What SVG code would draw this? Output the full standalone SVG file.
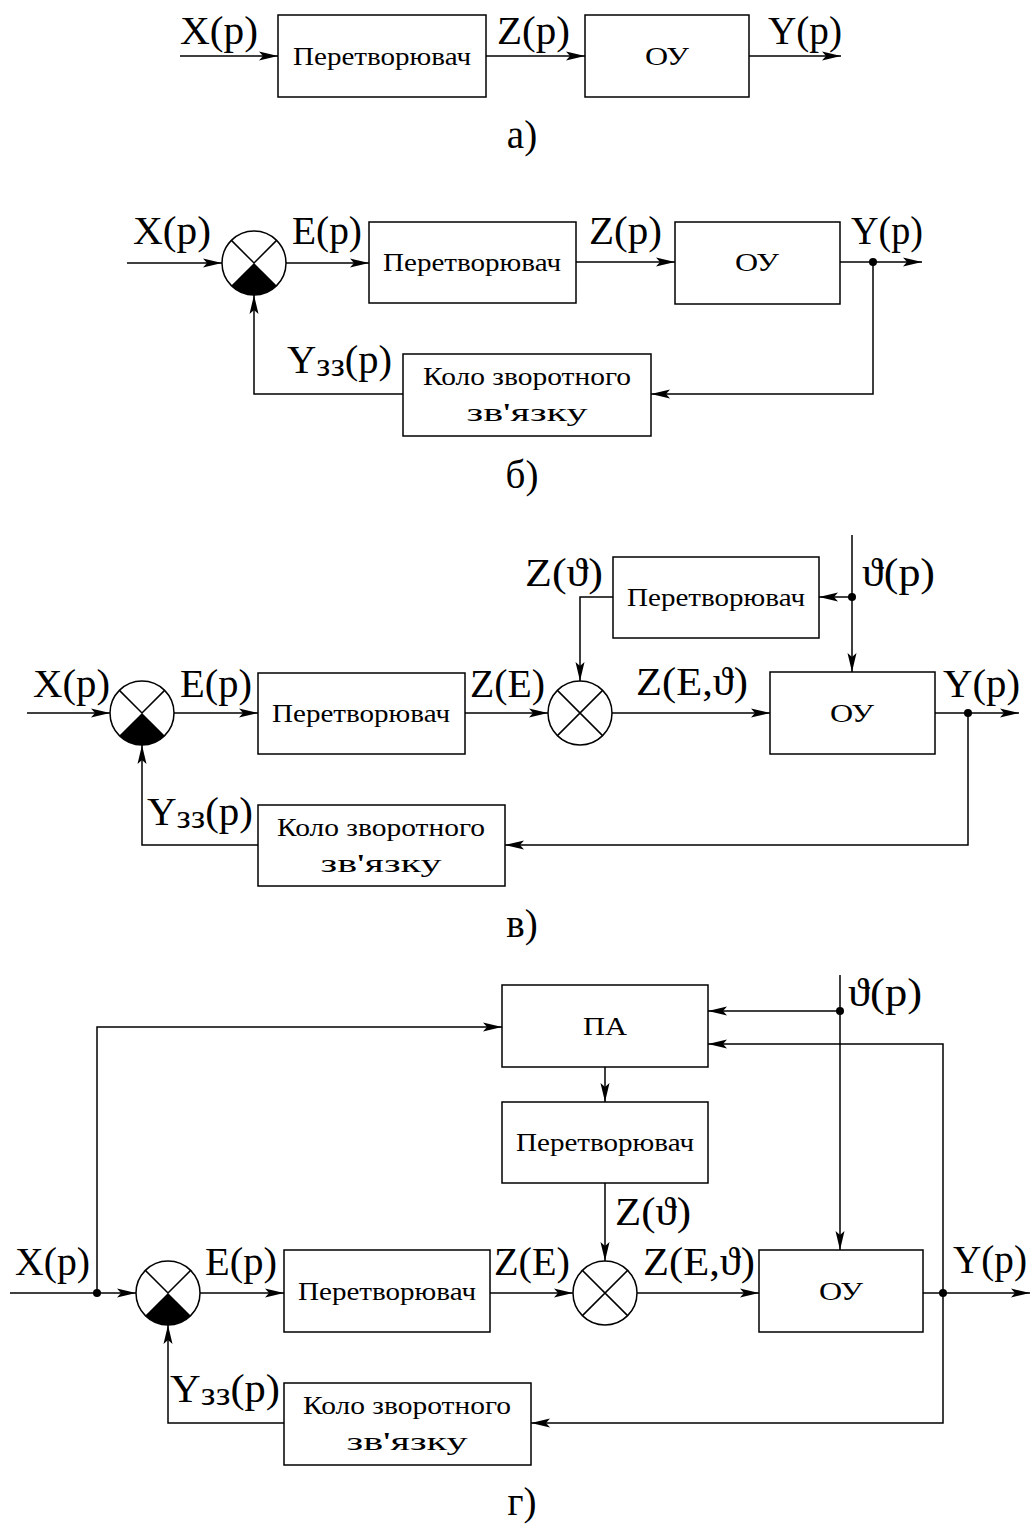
<svg xmlns="http://www.w3.org/2000/svg" width="1036" height="1529" viewBox="0 0 1036 1529">
<style>
.bx{fill:#fff;stroke:#000;stroke-width:1.5}
.ln{fill:none;stroke:#000;stroke-width:1.5}
.ar{fill:none;stroke:#000;stroke-width:1.5;marker-end:url(#arr)}
.t{font-family:"Liberation Serif","Times New Roman","DejaVu Serif",serif;font-size:25px;fill:#000}
.L{font-family:"Liberation Serif","Times New Roman","DejaVu Serif",serif;font-size:39px;fill:#000}
.sub{font-size:34px}
.sum{fill:#fff;stroke:#000;stroke-width:1.5}
.dot{fill:#000}
</style>
<defs>
<marker id="arr" markerUnits="userSpaceOnUse" markerWidth="20" markerHeight="10" refX="19" refY="5" orient="auto">
<path d="M0,0.5 L19,5 L0,9.5 L4,5 z" fill="#000"/>
</marker>
</defs>

<!-- Section a -->
<g id="a-conv"><rect class="bx" x="278" y="15" width="208" height="82"/><text class="t" x="382" y="65" text-anchor="middle" textLength="178" lengthAdjust="spacingAndGlyphs">Перетворювач</text></g>
<g id="a-ou"><rect class="bx" x="585" y="15" width="164" height="82"/><text class="t" x="667" y="65" text-anchor="middle" textLength="44" lengthAdjust="spacingAndGlyphs">ОУ</text></g>
<g id="a-labels">
<text class="L" x="180" y="44" textLength="78" lengthAdjust="spacingAndGlyphs">X(p)</text>
<text class="L" x="497" y="44" textLength="73" lengthAdjust="spacingAndGlyphs">Z(p)</text>
<text class="L" x="768" y="44" textLength="74" lengthAdjust="spacingAndGlyphs">Y(p)</text>
<text class="L" x="522" y="148" text-anchor="middle">а)</text>
</g>

<!-- Section b -->
<g id="b-sum"><circle class="sum" cx="254" cy="263" r="32"/><path d="M254,263 L231.4,285.6 A32,32 0 0 0 276.6,285.6 Z" fill="#000"/><path class="ln" d="M231.4,240.4 L254,263 L276.6,240.4"/></g>
<g id="b-conv"><rect class="bx" x="369" y="222" width="207" height="81"/><text class="t" x="472" y="271" text-anchor="middle" textLength="178" lengthAdjust="spacingAndGlyphs">Перетворювач</text></g>
<g id="b-ou"><rect class="bx" x="675" y="222" width="165" height="82"/><text class="t" x="757" y="271" text-anchor="middle" textLength="44" lengthAdjust="spacingAndGlyphs">ОУ</text></g>
<g id="b-fb"><rect class="bx" x="403" y="354" width="248" height="82"/><text class="t" x="527" y="385" text-anchor="middle" textLength="208" lengthAdjust="spacingAndGlyphs">Коло зворотного</text><text class="t" x="527" y="421" text-anchor="middle" textLength="121" lengthAdjust="spacingAndGlyphs">зв'язку</text></g>
<g id="b-labels">
<text class="L" x="133" y="244" textLength="78" lengthAdjust="spacingAndGlyphs">X(p)</text>
<text class="L" x="292" y="244" textLength="70" lengthAdjust="spacingAndGlyphs">E(p)</text>
<text class="L" x="589" y="244" textLength="73" lengthAdjust="spacingAndGlyphs">Z(p)</text>
<text class="L" x="851" y="244" textLength="72" lengthAdjust="spacingAndGlyphs">Y(p)</text>
<text class="L" x="287" y="373" textLength="105" lengthAdjust="spacingAndGlyphs">Y<tspan class="sub" dy="3">зз</tspan><tspan dy="-3">(p)</tspan></text>
<text class="L" x="522" y="488" text-anchor="middle">б)</text>
</g>

<!-- Section v -->
<g id="v-sum1"><circle class="sum" cx="142" cy="713" r="32"/><path d="M142,713 L119.4,735.6 A32,32 0 0 0 164.6,735.6 Z" fill="#000"/><path class="ln" d="M119.4,690.4 L142,713 L164.6,690.4"/></g>
<g id="v-conv"><rect class="bx" x="258" y="673" width="207" height="81"/><text class="t" x="361" y="722" text-anchor="middle" textLength="178" lengthAdjust="spacingAndGlyphs">Перетворювач</text></g>
<g id="v-sum2"><circle class="sum" cx="580" cy="713" r="32"/><path class="ln" d="M557.4,690.4 L602.6,735.6 M557.4,735.6 L602.6,690.4"/></g>
<g id="v-ou"><rect class="bx" x="770" y="672" width="165" height="82"/><text class="t" x="852" y="722" text-anchor="middle" textLength="44" lengthAdjust="spacingAndGlyphs">ОУ</text></g>
<g id="v-conv2"><rect class="bx" x="613" y="557" width="206" height="81"/><text class="t" x="716" y="606" text-anchor="middle" textLength="178" lengthAdjust="spacingAndGlyphs">Перетворювач</text></g>
<g id="v-fb"><rect class="bx" x="258" y="805" width="247" height="81"/><text class="t" x="381" y="836" text-anchor="middle" textLength="208" lengthAdjust="spacingAndGlyphs">Коло зворотного</text><text class="t" x="381" y="872" text-anchor="middle" textLength="121" lengthAdjust="spacingAndGlyphs">зв'язку</text></g>
<g id="v-labels">
<text class="L" x="33" y="697" textLength="77" lengthAdjust="spacingAndGlyphs">X(p)</text>
<text class="L" x="180" y="697" textLength="72" lengthAdjust="spacingAndGlyphs">E(p)</text>
<text class="L" x="470" y="697" textLength="75" lengthAdjust="spacingAndGlyphs">Z(E)</text>
<text class="L" x="636" y="695" textLength="112" lengthAdjust="spacingAndGlyphs">Z(E,ϑ)</text>
<text class="L" x="943" y="697" textLength="77" lengthAdjust="spacingAndGlyphs">Y(p)</text>
<text class="L" x="525" y="586" textLength="78" lengthAdjust="spacingAndGlyphs">Z(ϑ)</text>
<text class="L" x="862" y="586" textLength="73" lengthAdjust="spacingAndGlyphs">ϑ(p)</text>
<text class="L" x="147" y="825" textLength="106" lengthAdjust="spacingAndGlyphs">Y<tspan class="sub" dy="3">зз</tspan><tspan dy="-3">(p)</tspan></text>
<text class="L" x="522" y="937" text-anchor="middle">в)</text>
</g>

<!-- Section g -->
<g id="g-pa"><rect class="bx" x="502" y="985" width="206" height="82"/><text class="t" x="605" y="1035" text-anchor="middle" textLength="44" lengthAdjust="spacingAndGlyphs">ПА</text></g>
<g id="g-conv2"><rect class="bx" x="502" y="1102" width="206" height="81"/><text class="t" x="605" y="1151" text-anchor="middle" textLength="178" lengthAdjust="spacingAndGlyphs">Перетворювач</text></g>
<g id="g-sum1"><circle class="sum" cx="168" cy="1293" r="32"/><path d="M168,1293 L145.4,1315.6 A32,32 0 0 0 190.6,1315.6 Z" fill="#000"/><path class="ln" d="M145.4,1270.4 L168,1293 L190.6,1270.4"/></g>
<g id="g-conv"><rect class="bx" x="284" y="1250" width="206" height="82"/><text class="t" x="387" y="1300" text-anchor="middle" textLength="178" lengthAdjust="spacingAndGlyphs">Перетворювач</text></g>
<g id="g-sum2"><circle class="sum" cx="605" cy="1293" r="32"/><path class="ln" d="M582.4,1270.4 L627.6,1315.6 M582.4,1315.6 L627.6,1270.4"/></g>
<g id="g-ou"><rect class="bx" x="759" y="1250" width="164" height="82"/><text class="t" x="841" y="1300" text-anchor="middle" textLength="44" lengthAdjust="spacingAndGlyphs">ОУ</text></g>
<g id="g-fb"><rect class="bx" x="284" y="1383" width="247" height="82"/><text class="t" x="407" y="1414" text-anchor="middle" textLength="208" lengthAdjust="spacingAndGlyphs">Коло зворотного</text><text class="t" x="407" y="1450" text-anchor="middle" textLength="121" lengthAdjust="spacingAndGlyphs">зв'язку</text></g>
<g id="g-labels">
<text class="L" x="15" y="1275" textLength="75" lengthAdjust="spacingAndGlyphs">X(p)</text>
<text class="L" x="205" y="1275" textLength="72" lengthAdjust="spacingAndGlyphs">E(p)</text>
<text class="L" x="494" y="1275" textLength="76" lengthAdjust="spacingAndGlyphs">Z(E)</text>
<text class="L" x="643" y="1275" textLength="112" lengthAdjust="spacingAndGlyphs">Z(E,ϑ)</text>
<text class="L" x="953" y="1273" textLength="74" lengthAdjust="spacingAndGlyphs">Y(p)</text>
<text class="L" x="615" y="1225" textLength="76" lengthAdjust="spacingAndGlyphs">Z(ϑ)</text>
<text class="L" x="848" y="1006" textLength="74" lengthAdjust="spacingAndGlyphs">ϑ(p)</text>
<text class="L" x="170" y="1402" textLength="110" lengthAdjust="spacingAndGlyphs">Y<tspan class="sub" dy="3">зз</tspan><tspan dy="-3">(p)</tspan></text>
<text class="L" x="522" y="1515" text-anchor="middle">г)</text>
</g>

<g id="connectors">
<!-- a -->
<path class="ar" d="M180,56 H278"/>
<path class="ar" d="M486,56 H585"/>
<path class="ar" d="M749,56 H841"/>
<!-- b -->
<path class="ar" d="M127,263 H222"/>
<path class="ar" d="M286,263 H369"/>
<path class="ar" d="M576,262 H675"/>
<path class="ar" d="M840,262 H922"/>
<path class="ar" d="M873,262 V394 H651"/>
<path class="ar" d="M403,394 H254 V295"/>
<circle class="dot" cx="873" cy="262" r="4"/>
<!-- v -->
<path class="ar" d="M27,713 H110"/>
<path class="ar" d="M174,713 H258"/>
<path class="ar" d="M465,713 H548"/>
<path class="ar" d="M612,713 H770"/>
<path class="ar" d="M935,713 H1019"/>
<path class="ar" d="M968,713 V845 H505"/>
<path class="ar" d="M258,845 H142 V745"/>
<path class="ar" d="M852,535 V672"/>
<path class="ar" d="M852,597 H819"/>
<path class="ar" d="M613,597 H580 V681"/>
<circle class="dot" cx="968" cy="713" r="4"/>
<circle class="dot" cx="852" cy="597" r="4"/>
<!-- g -->
<path class="ar" d="M10,1293 H136"/>
<path class="ar" d="M200,1293 H284"/>
<path class="ar" d="M490,1293 H573"/>
<path class="ar" d="M637,1293 H759"/>
<path class="ar" d="M923,1293 H1030"/>
<path class="ar" d="M97,1293 V1027 H502"/>
<path class="ar" d="M840,975 V1250"/>
<path class="ar" d="M840,1011 H708"/>
<path class="ar" d="M943,1293 V1044 H708"/>
<path class="ar" d="M943,1293 V1423 H531"/>
<path class="ar" d="M284,1423 H168 V1325"/>
<path class="ar" d="M605,1067 V1102"/>
<path class="ar" d="M605,1183 V1261"/>
<circle class="dot" cx="97" cy="1293" r="4"/>
<circle class="dot" cx="943" cy="1293" r="4"/>
<circle class="dot" cx="840" cy="1011" r="4"/>
</g>
</svg>
